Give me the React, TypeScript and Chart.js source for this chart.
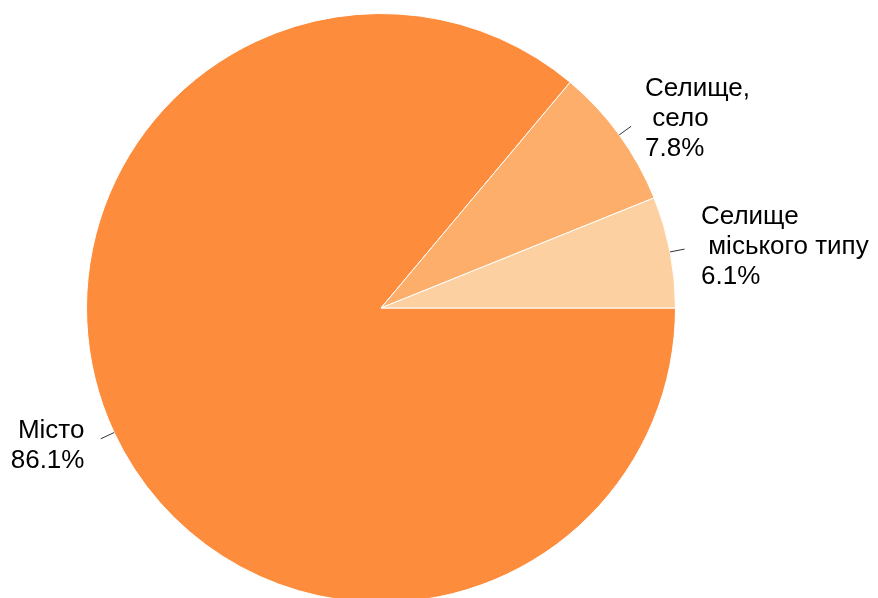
import React, { useEffect, useRef } from "react";
import { Chart, registerables } from "chart.js";

Chart.register(...registerables);

const categories: string[] = ["Місто", "Селище,\n село", "Селище\n міського типу"];
const shares: number[] = [86.1, 7.8, 6.1];
const colors: string[] = ["#FD8D3C", "#FDAE6B", "#FDD0A2"];

const pieLabels = {
  id: "pieLabels",
  afterDraw(chart: any) {
    const ctx = chart.ctx as CanvasRenderingContext2D;
    const meta = chart.getDatasetMeta(0);
    ctx.save();
    ctx.font = "26px 'Liberation Sans', Arial, sans-serif";
    ctx.fillStyle = "#000";
    ctx.strokeStyle = "#333";
    ctx.lineWidth = 1;
    ctx.textBaseline = "middle";
    const lineH = 30;
    meta.data.forEach((arc: any, i: number) => {
      const { x, y, startAngle, endAngle, outerRadius } = arc.getProps(
        ["x", "y", "startAngle", "endAngle", "outerRadius"],
        true
      );
      const a = (startAngle + endAngle) / 2;
      const c = Math.cos(a);
      const s = Math.sin(a);
      ctx.beginPath();
      ctx.moveTo(x + outerRadius * c, y + outerRadius * s);
      ctx.lineTo(x + outerRadius * 1.05 * c, y + outerRadius * 1.05 * s);
      ctx.stroke();
      const right = c >= 0;
      const lx = x + outerRadius * 1.1 * c + (right ? 2 : -3);
      const ly = y + outerRadius * 1.1 * s + 1;
      const lines = categories[i].split("\n").concat([shares[i].toFixed(1) + "%"]);
      ctx.textAlign = right ? "left" : "right";
      lines.forEach((t, k) => {
        ctx.fillText(t, lx, ly + (k - (lines.length - 1) / 2) * lineH);
      });
    });
    ctx.restore();
  },
};

export default function App() {
  const ref = useRef<HTMLCanvasElement | null>(null);
  useEffect(() => {
    if (!ref.current) return;
    const chart = new Chart(ref.current, {
      type: "pie",
      data: {
        labels: categories,
        datasets: [
          {
            data: shares,
            backgroundColor: colors,
            borderColor: "#ffffff",
            borderWidth: 1,
          },
        ],
      },
      options: {
        responsive: true,
        maintainAspectRatio: false,
        animation: false,
        rotation: 90,
        layout: { padding: { left: 86, right: 202, top: 13, bottom: 7 } },
        plugins: {
          legend: { display: false },
          tooltip: { enabled: false },
        },
      },
      plugins: [pieLabels],
    });
    return () => chart.destroy();
  }, []);
  return (
    <div
      style={{
        position: "fixed",
        left: 0,
        top: 0,
        width: 878,
        height: 598,
        overflow: "hidden",
        background: "#fff",
      }}
    >
      <div style={{ position: "absolute", left: 0, top: 0, width: 878, height: 610 }}>
        <canvas ref={ref} />
      </div>
    </div>
  );
}
